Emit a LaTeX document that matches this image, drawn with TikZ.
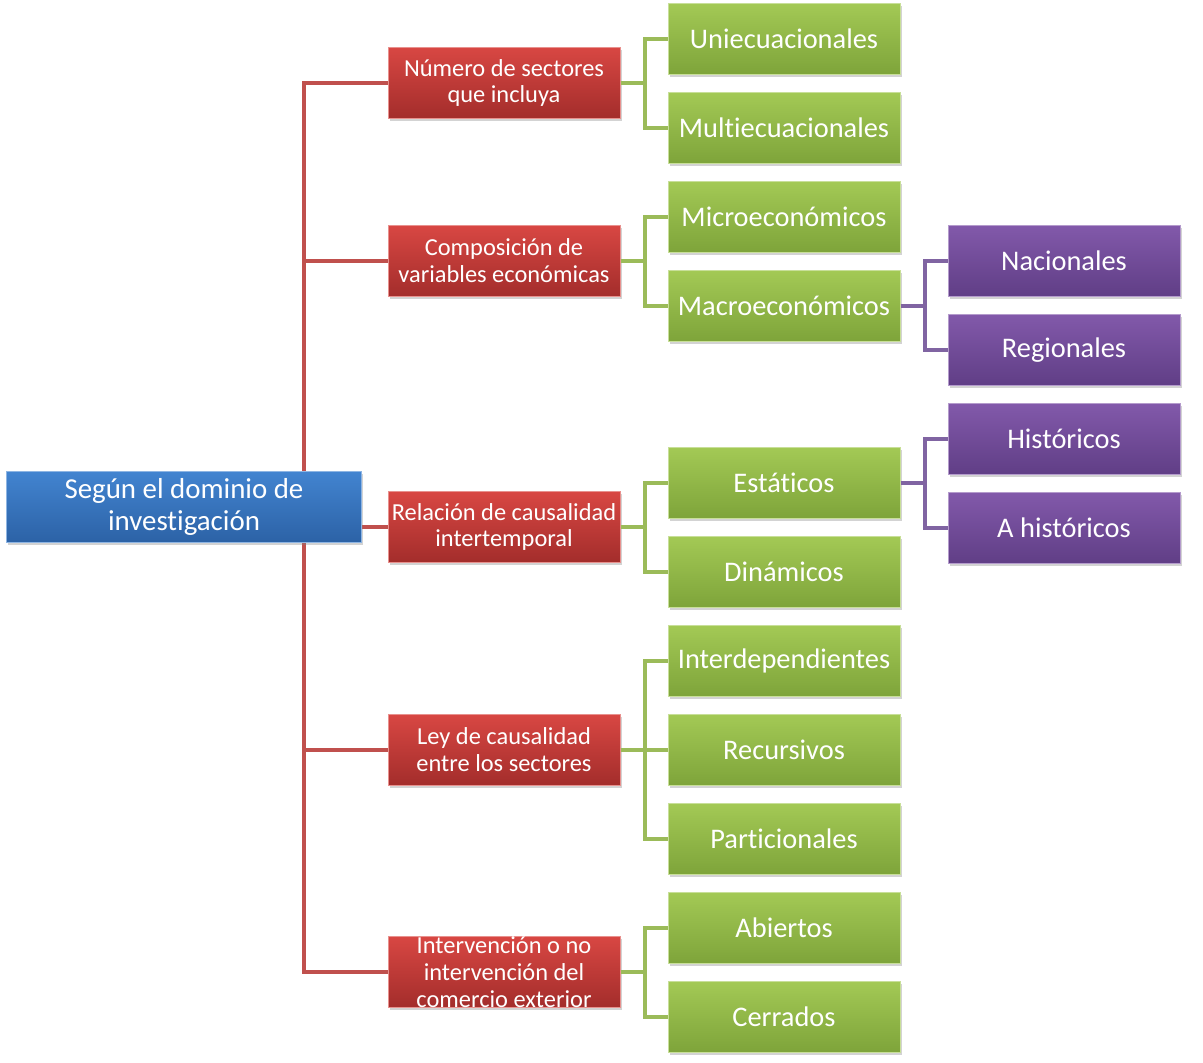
\documentclass[tikz,border=0pt]{standalone}
\usepackage{fontspec}
\setmainfont{Carlito}[Ligatures={NoCommon}]
\usetikzlibrary{positioning,shadows}

\definecolor{catred}{HTML}{C0504D}
\definecolor{leafgreen}{HTML}{9BBB59}
\definecolor{subpurple}{HTML}{8064A2}
\definecolor{bluetop}{HTML}{4284D0}
\definecolor{bluebot}{HTML}{2C62A6}
\definecolor{redtop}{HTML}{D84743}
\definecolor{redbot}{HTML}{A32D2B}
\definecolor{greentop}{HTML}{A3C955}
\definecolor{greenbot}{HTML}{7EA43A}
\definecolor{purpletop}{HTML}{8259AA}
\definecolor{purplebot}{HTML}{603E86}

\begin{document}
\begin{tikzpicture}[x=1bp, y=-1bp, node distance=17bp, every node/.style={text=white}]
\tikzstyle{box}=[rectangle, align=center, inner sep=0pt, line width=1bp, minimum height=71bp, drop shadow={shadow xshift=1.5bp, shadow yshift=-2bp, opacity=0.35}]
\tikzstyle{rootbox}=[box, minimum width=355bp, top color=bluetop, bottom color=bluebot, draw=bluetop!60!white, font=\fontsize{29}{32}\selectfont]
\tikzstyle{catbox}=[box, minimum width=232bp, top color=redtop, bottom color=redbot, draw=redtop!60!white, font=\fontsize{24.5}{27}\selectfont]
\tikzstyle{leafbox}=[box, minimum width=232bp, top color=greentop, bottom color=greenbot, draw=greentop!60!white, font=\fontsize{28.5}{30}\selectfont]
\tikzstyle{subbox}=[box, minimum width=232bp, top color=purpletop, bottom color=purplebot, draw=purpletop!60!white, font=\fontsize{28.5}{30}\selectfont]
\tikzstyle{redline}=[catred, line width=4bp]
\tikzstyle{greenline}=[leafgreen, line width=4bp]
\tikzstyle{purpleline}=[subpurple, line width=4bp]
\useasboundingbox (0,0) rectangle (1203,1063);
% categories
\node[catbox] (numero) at (504,83) {Número de sectores\\que incluya};
\node[catbox] (composicion) at (504,261) {Composición de\\variables económicas};
\node[catbox] (relacion) at (504,527) {Relación de causalidad\\intertemporal};
\node[catbox] (ley) at (504,750) {Ley de causalidad\\entre los sectores};
\node[catbox] (intervencion) at (504,972) {Intervención o no\\intervención del\\comercio exterior};
% leaves
\node[leafbox] (uni) at (784,39) {Uniecuacionales};
\node[leafbox, below=of uni] (multi) {Multiecuacionales};
\node[leafbox, below=of multi] (micro) {Microeconómicos};
\node[leafbox, below=of micro] (macro) {Macroeconómicos};
\node[leafbox] (estaticos) at (784,483) {Estáticos};
\node[leafbox, below=of estaticos] (dinamicos) {Dinámicos};
\node[leafbox, below=of dinamicos] (interdep) {Interdependientes};
\node[leafbox, below=of interdep] (recursivos) {Recursivos};
\node[leafbox, below=of recursivos] (particionales) {Particionales};
\node[leafbox, below=of particionales] (abiertos) {Abiertos};
\node[leafbox, below=of abiertos] (cerrados) {Cerrados};
% sub leaves
\node[subbox] (nacionales) at (1064,261) {Nacionales};
\node[subbox, below=of nacionales] (regionales) {Regionales};
\node[subbox, below=of regionales] (historicos) {Históricos};
\node[subbox, below=of historicos] (ahistoricos) {A históricos};
% connectors
\coordinate (trunk) at (304,527);
\draw[redline] (trunk) |- (numero.west);
\draw[redline] (trunk) |- (composicion.west);
\draw[redline] (trunk) |- (relacion.west);
\draw[redline] (trunk) |- (ley.west);
\draw[redline] (trunk) |- (intervencion.west);
\draw[greenline] (numero.east) -- ++(24,0) |- (uni.west);
\draw[greenline] (numero.east) -- ++(24,0) |- (multi.west);
\draw[greenline] (composicion.east) -- ++(24,0) |- (micro.west);
\draw[greenline] (composicion.east) -- ++(24,0) |- (macro.west);
\draw[greenline] (relacion.east) -- ++(24,0) |- (estaticos.west);
\draw[greenline] (relacion.east) -- ++(24,0) |- (dinamicos.west);
\draw[greenline] (ley.east) -- ++(24,0) |- (interdep.west);
\draw[greenline] (ley.east) -- ++(24,0) |- (recursivos.west);
\draw[greenline] (ley.east) -- ++(24,0) |- (particionales.west);
\draw[greenline] (intervencion.east) -- ++(24,0) |- (abiertos.west);
\draw[greenline] (intervencion.east) -- ++(24,0) |- (cerrados.west);
\draw[purpleline] (macro.east) -- ++(24,0) |- (nacionales.west);
\draw[purpleline] (macro.east) -- ++(24,0) |- (regionales.west);
\draw[purpleline] (estaticos.east) -- ++(24,0) |- (historicos.west);
\draw[purpleline] (estaticos.east) -- ++(24,0) |- (ahistoricos.west);
% root over the trunk
\node[rootbox] (root) at (184,507) {Según el dominio de\\investigación};
\end{tikzpicture}
\end{document}
